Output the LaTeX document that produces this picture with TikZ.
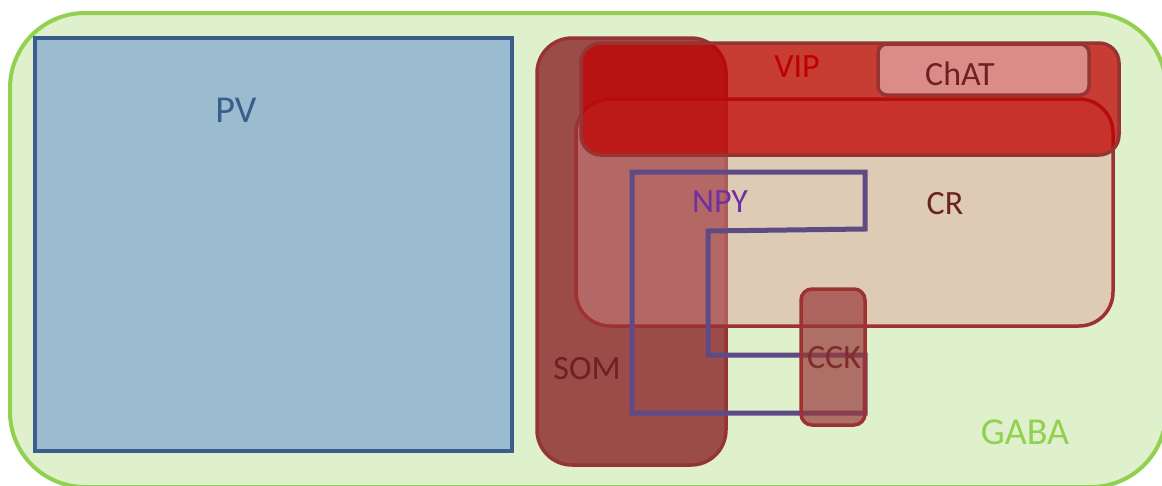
\documentclass[tikz,border=0pt]{standalone}
\usepackage{fontspec}
\setmainfont{Carlito}
\definecolor{gabafill}{RGB}{223,240,204}
\definecolor{gabaline}{RGB}{146,208,80}
\definecolor{pvfill}{RGB}{155,187,206}
\definecolor{pvline}{RGB}{58,94,140}
\definecolor{somfill}{RGB}{156,76,72}
\definecolor{redline}{RGB}{150,52,52}
\definecolor{crfill}{RGB}{218,148,147}
\definecolor{crline}{RGB}{158,50,48}
\definecolor{npyline}{RGB}{94,75,134}
\definecolor{cckfill}{RGB}{153,57,59}
\definecolor{vipfill}{RGB}{192,0,0}
\definecolor{chatfill}{RGB}{220,140,136}
\definecolor{darktext}{RGB}{107,34,33}
\definecolor{npytext}{RGB}{112,48,160}
\definecolor{ccktext}{RGB}{128,44,44}
\tikzset{
  lbl/.style={inner sep=0pt, font=\fontsize{34}{40}\selectfont},
  biglbl/.style={inner sep=0pt, font=\fontsize{38}{44}\selectfont},
  region/.style={line width=4pt, line join=round}
}
\begin{document}
\begin{tikzpicture}[x=1pt,y=-1pt]
\useasboundingbox (0,0) rectangle (1162,485);
\clip (0,0) rectangle (1162,485);
% GABA
\draw[region, fill=gabafill, draw=gabaline, rounded corners=75pt] (10,13) rectangle (1166,487);
% PV
\draw[region, fill=pvfill, draw=pvline, line width=4.5pt, line join=miter] (35,38) rectangle (512,451);
% SOM
\draw[region, fill=somfill, draw=redline, line width=3.5pt, rounded corners=35pt] (537,38) rectangle (726,465);
% CR
\fill[crfill, fill opacity=0.4, rounded corners=34pt] (576,99) rectangle (1113,326);
\draw[region, draw=crline, line width=3.5pt, rounded corners=34pt] (576,99) rectangle (1113,326);
% NPY
\draw[npyline, line width=5pt, line join=miter] (632,172) -- (865,172) -- (865,229) -- (708,231) -- (708,355) -- (865,355) -- (865,413) -- (632,413) -- cycle;
% CCK
\fill[cckfill, fill opacity=0.7, rounded corners=11pt] (801,289) rectangle (865,425);
\node[lbl, text=ccktext] (cck) at (834,358) {CCK};
\draw[region, draw=crline, line width=3.5pt, rounded corners=11pt] (801,289) rectangle (865,425);
% VIP
\fill[vipfill, fill opacity=0.75, rounded corners=20pt] (581,43) rectangle (1119,155);
\draw[region, draw=redline, line width=3.5pt, rounded corners=20pt] (581,43) rectangle (1119,155);
% ChAT
\draw[region, fill=chatfill, draw=redline, line width=3.5pt, rounded corners=9pt] (878,44) rectangle (1089,95);
% labels
\node[biglbl, text=pvline] (pv) at (236,110) {PV};
\node[lbl, text=vipfill] (vip) at (797,67) {VIP};
\node[lbl, text=darktext] (chat) at (960,74) {ChAT};
\node[lbl, text=npytext] (npy) at (720,202) {NPY};
\node[lbl, text=darktext] (cr) at (945,204) {CR};
\node[lbl, text=darktext] (som) at (587,369) {SOM};
\node[biglbl, text=gabaline] (gaba) at (1025,432) {GABA};
\end{tikzpicture}
\end{document}
